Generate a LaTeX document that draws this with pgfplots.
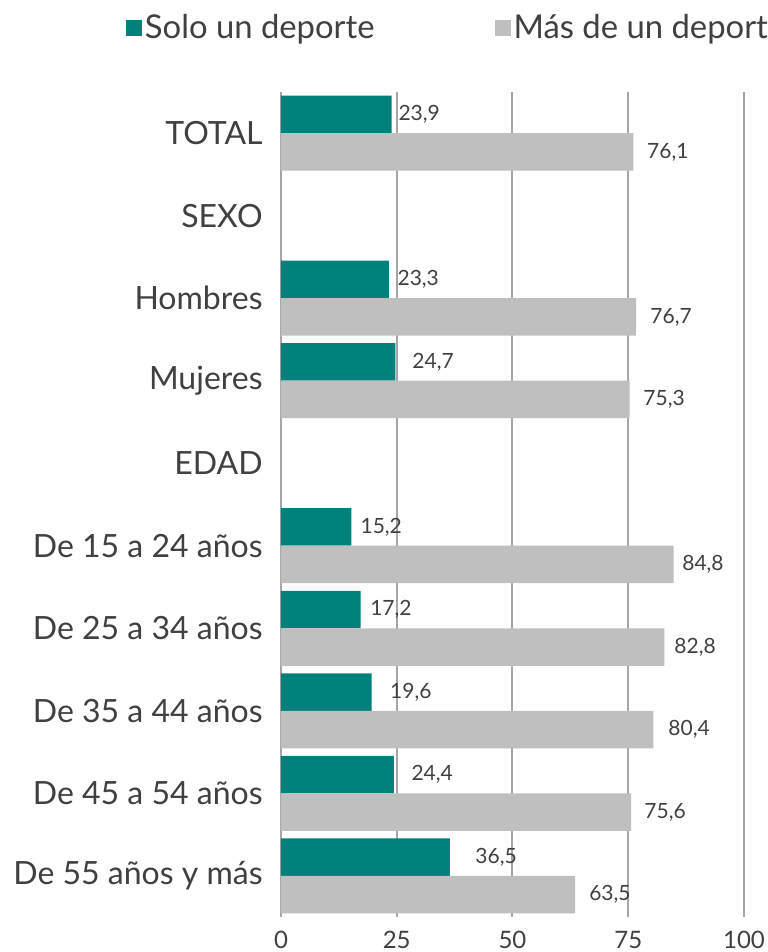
\documentclass[border=0pt]{standalone}
\usepackage{fontspec}
\setmainfont{Lato}
\usepackage{pgfplots}
\usepackage{pgfplotstable}
\pgfplotsset{compat=1.18}
\definecolor{tealbar}{RGB}{0,128,122}
\definecolor{greybar}{RGB}{191,191,191}
\definecolor{gridc}{RGB}{166,166,166}
\definecolor{txt}{RGB}{64,64,64}

\pgfplotstableread{
row v lx
0 23.9 25.3
2 23.3 25.1
3 24.7 28.3
5 15.2 17.1
6 17.2 19.2
7 19.6 23.5
8 24.4 28.1
9 36.5 41.9
}\solo

\pgfplotstableread{
row v lx
0 76.1 79.0
2 76.7 79.7
3 75.3 78.2
5 84.8 86.6
6 82.8 84.9
7 80.4 83.6
8 75.6 78.4
9 63.5 66.5
}\mas

\begin{document}
\begin{tikzpicture}
\begin{axis}[
  at={(0,0)}, anchor=south west,
  scale only axis,
  width=231.5pt, height=412.5pt,
  xbar,
  xmin=0, xmax=100,
  ymin=-0.5, ymax=9.5,
  y dir=reverse,
  xtick={0,25,50,75,100},
  ytick={0,1,2,3,4,5,6,7,8,9},
  yticklabels={TOTAL,SEXO,Hombres,Mujeres,EDAD,De 15 a 24 años,De 25 a 34 años,De 35 a 44 años,De 45 a 54 años,De 55 años y más},
  major tick length=0pt,
  axis line style={draw=none},
  xmajorgrids,
  grid style={draw=gridc, line width=1pt},
  /pgf/number format/assume math mode=true,
  xticklabel style={font=\fontsize{12}{14}\selectfont, text=txt, inner sep=0pt, anchor=north, yshift=-7pt},
  yticklabel style={font=\fontsize{16}{18}\selectfont, text=txt, inner sep=0pt, anchor=east, xshift=-9pt},
  legend image code/.code={\fill[#1] (0pt,-4pt) rectangle (8pt,4pt);},
  legend style={at={(-0.3348,1.0776)}, anchor=west, draw=none, fill=none,
    inner sep=0pt, outer sep=0pt,
    nodes={inner sep=0pt, text=txt, font=\fontsize{16.4}{18}\selectfont},
    legend columns=2,
    /tikz/every odd column/.append style={column sep=1.5pt},
    /tikz/every even column/.append style={column sep=60pt}},
  nodes near coords={\pgfmathprintnumber[fixed, fixed zerofill, precision=1, use comma]{\pgfplotspointmeta}},
]
\addplot[fill=tealbar, draw=none, bar width=18.75pt, bar shift=9.375pt,
  visualization depends on={(\thisrow{lx}-\thisrow{v})*2.315 \as \dx},
  every node near coord/.append style={anchor=west, inner sep=0pt, xshift=\dx pt, text=txt, font=\fontsize{10.5}{12}\selectfont}]
  table[x=v, y=row] {\solo};
\addplot[fill=greybar, draw=none, bar width=18.75pt, bar shift=-9.375pt,
  visualization depends on={(\thisrow{lx}-\thisrow{v})*2.315 \as \dx},
  every node near coord/.append style={anchor=west, inner sep=0pt, xshift=\dx pt, text=txt, font=\fontsize{10.5}{12}\selectfont}]
  table[x=v, y=row] {\mas};
\legend{Solo un deporte, Más de un deporte}
\end{axis}
\pgfresetboundingbox
\useasboundingbox (-140.5pt,-17.5pt) rectangle (243pt,458.5pt);
\end{tikzpicture}
\end{document}
